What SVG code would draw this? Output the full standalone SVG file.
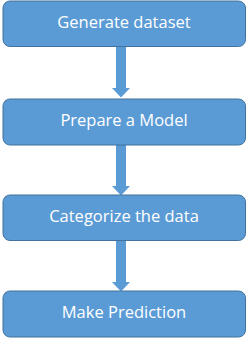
<svg xmlns="http://www.w3.org/2000/svg" width="248" height="339" viewBox="0 0 248 339">
<style>
.box{fill:#5B9BD5;stroke:#41719C;stroke-width:1}
.lbl{fill:#FFFFFF;font-family:"Open Sans","Liberation Sans",sans-serif;font-size:16.5px;text-anchor:middle}
.arr{fill:#5B9BD5}
</style>
<rect width="248" height="339" fill="#FFFFFF"/>
<g id="connectors">
<path class="arr" d="M116,46 H126 V88 H130 L121,97.5 L112,88 H116 Z"/>
<path class="arr" d="M116,145 H126 V186 H130 L121,195.5 L112,186 H116 Z"/>
<path class="arr" d="M116,240 H126 V282 H130 L121,291.5 L112,282 H116 Z"/>
</g>
<g id="node1"><rect class="box" x="3" y="1" width="242.5" height="45.5" rx="7"/><text class="lbl" x="124" y="27.5">Generate dataset</text></g>
<g id="node2"><rect class="box" x="3" y="99" width="242.5" height="46" rx="7"/><text class="lbl" x="124" y="125.5">Prepare a Model</text></g>
<g id="node3"><rect class="box" x="3" y="195" width="242.5" height="45.5" rx="7"/><text class="lbl" x="124" y="221.5">Categorize the data</text></g>
<g id="node4"><rect class="box" x="3" y="291" width="242.5" height="46" rx="7"/><text class="lbl" x="124" y="317.5">Make Prediction</text></g>
</svg>
